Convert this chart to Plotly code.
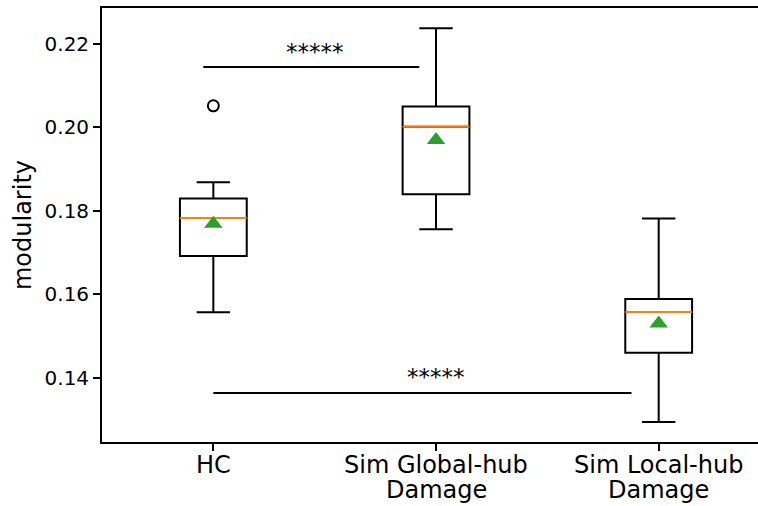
import plotly.graph_objects as go

# ---- data ----
tick_line1 = ["HC", "Sim Global-hub", "Sim Local-hub"]
tick_line2 = ["", "Damage", "Damage"]
positions = [1, 2, 3]
q1 = [0.1692, 0.1840, 0.1460]
median = [0.1783, 0.2002, 0.1558]
q3 = [0.1830, 0.2050, 0.1589]
lower_whisker = [0.1557, 0.1756, 0.1294]
upper_whisker = [0.1869, 0.2238, 0.1782]
means = [0.1769, 0.1970, 0.1530]
outlier_x = [1]
outlier_y = [0.2052]
y_ticks = [0.14, 0.16, 0.18, 0.20, 0.22]
y_tick_labels = ["0.14", "0.16", "0.18", "0.20", "0.22"]

# significance brackets
sig_x_start = [0.955, 1.0]
sig_x_end = [1.925, 2.878]
sig_y = [0.2145, 0.1364]
sig_label_x = [1.455, 2.0]
sig_label_y = [0.2182, 0.1401]
sig_labels = ["*****", "*****"]

BOX_W = 0.3
FONT = "DejaVu Sans"

fig = go.Figure()

for i, p in enumerate(positions):
    fig.add_trace(go.Box(
        x=[p], q1=[q1[i]], median=[median[i]], q3=[q3[i]],
        lowerfence=[lower_whisker[i]], upperfence=[upper_whisker[i]],
        width=BOX_W, whiskerwidth=0.5,
        line=dict(color="black", width=2), fillcolor="white",
        boxpoints=False, showlegend=False, hoverinfo="skip",
    ))
    fig.add_trace(go.Scatter(
        x=[p - BOX_W / 2, p + BOX_W / 2], y=[median[i], median[i]],
        mode="lines", line=dict(color="#ff7f0e", width=2),
        showlegend=False, hoverinfo="skip",
    ))

fig.add_trace(go.Scatter(
    x=positions, y=means, mode="markers",
    marker=dict(symbol="triangle-up", size=16, color="#2ca02c", line=dict(width=0)),
    showlegend=False, hoverinfo="skip",
))

fig.add_trace(go.Scatter(
    x=outlier_x, y=outlier_y, mode="markers",
    marker=dict(symbol="circle-open", size=11, color="black", line=dict(width=2, color="black")),
    showlegend=False, hoverinfo="skip",
))

for xs, xe, y, lx, ly, lab in zip(sig_x_start, sig_x_end, sig_y, sig_label_x, sig_label_y, sig_labels):
    fig.add_trace(go.Scatter(
        x=[xs, xe], y=[y, y], mode="lines",
        line=dict(color="black", width=2),
        showlegend=False, hoverinfo="skip",
    ))
    fig.add_annotation(x=lx, y=ly, xref="x", yref="y", text=lab, showarrow=False,
                       font=dict(family=FONT, size=23, color="black"),
                       xanchor="center", yanchor="middle")

# x tick labels (two lines, matplotlib-like tight spacing)
for p, t1, t2 in zip(positions, tick_line1, tick_line2):
    fig.add_annotation(x=p, y=0, xref="x", yref="paper", text=t1, showarrow=False,
                       font=dict(family=FONT, size=24, color="black"),
                       xanchor="center", yanchor="middle", yshift=-23)
    if t2:
        fig.add_annotation(x=p, y=0, xref="x", yref="paper", text=t2, showarrow=False,
                           font=dict(family=FONT, size=24, color="black"),
                           xanchor="center", yanchor="middle", yshift=-48)

# slightly wider than the window so the (cropped) right spine falls outside the view
fig.update_layout(
    width=762, height=506,
    margin=dict(l=102, r=0, t=8, b=64, autoexpand=False),
    paper_bgcolor="white", plot_bgcolor="white",
    font=dict(family=FONT, color="black"),
)

fig.update_xaxes(
    range=[0.5, 3.464], tickvals=positions, showticklabels=False,
    showline=True, linecolor="black", linewidth=1.8, mirror=True,
    ticks="outside", ticklen=7, tickwidth=1.8, tickcolor="black",
    showgrid=False, zeroline=False, automargin=False,
)
fig.update_yaxes(
    range=[0.12463, 0.22863], tickvals=y_ticks, ticktext=y_tick_labels,
    showline=True, linecolor="black", linewidth=1.8, mirror=False,
    ticks="outside", ticklen=7, tickwidth=1.8, tickcolor="black",
    showgrid=False, zeroline=False, automargin=False,
    tickfont=dict(family=FONT, size=20, color="black"),
    title=dict(text="modularity", font=dict(family=FONT, size=24, color="black"), standoff=6),
)

fig.write_html(
    "out.html",
    config={"displayModeBar": False},
    post_script="document.body.style.margin='0';document.body.style.overflow='hidden';",
)
